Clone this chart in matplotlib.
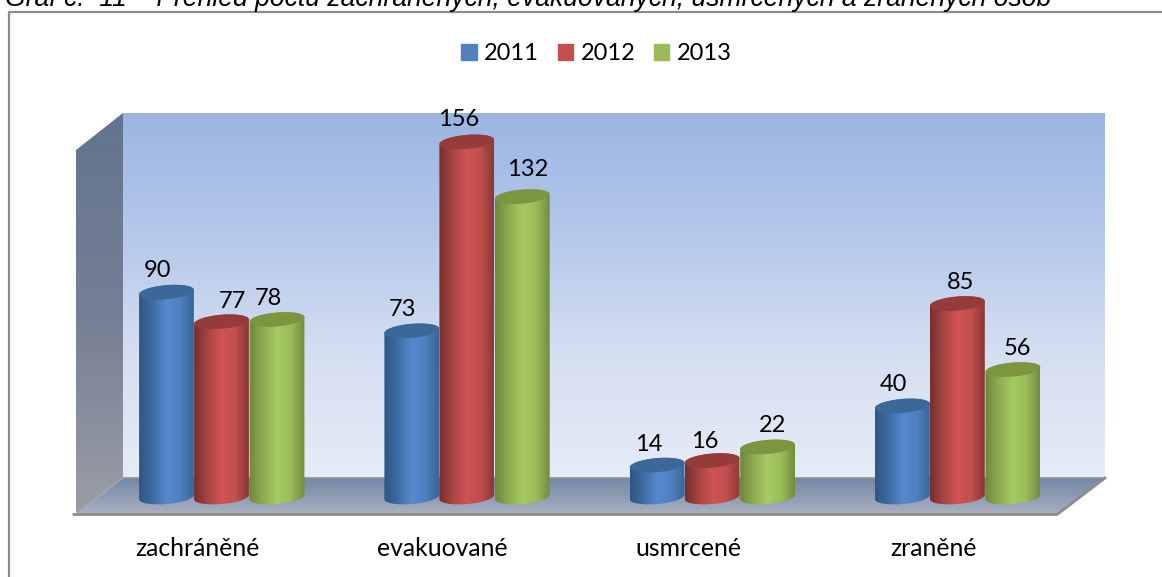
import numpy as np
import matplotlib
matplotlib.use('Agg')
from matplotlib import pyplot as plt
from matplotlib.colors import LinearSegmentedColormap
from matplotlib.patches import Patch, Polygon

categories = ['zachráněné', 'evakuované', 'usmrcené', 'zraněné']
years = ['2011', '2012', '2013']
values_2011 = [90, 73, 14, 40]
values_2012 = [77, 156, 16, 85]
values_2013 = [78, 132, 22, 56]

W, H = 1162, 577
PX_X = 245.3   # pixels per category
PX_Y = 2.276   # pixels per unit
X0, Y0 = 221.5, 497   # pixel position of first group, value 0

legend_colors = ['#4f81bd', '#c0504d', '#9bbb59']
body_colors = [['#2f5583', '#3f6ca3', '#5589cf', '#4f80c0', '#3a6495'],
               ['#752e2d', '#a84543', '#cf5553', '#c04f4d', '#8a3837'],
               ['#6d873c', '#8fab50', '#a6c961', '#9cbc5a', '#718c3e']]
top_colors = ['#3c6899', '#953c3a', '#7b9541']
offsets_px = [-55, 0, 55.5]
half_w_px = 27.5
half_h_px = 7
tilt = np.radians(5)

# label shift from the bar centre in pixels, one row per series
label_dx = [[-9, -9, -8, -9], [11, -8, -7, 3], [-9, 5, 5, 5]]
label_dy = [[-22, -21, -21, -21], [-20, -22, -19, -21], [-21, -27, -21, -21]]


def grad(ax, colors, extent, clip, horizontal=True, zorder=1):
    cmap = LinearSegmentedColormap.from_list('g', colors)
    t = np.linspace(0, 1, 256)
    img = t[None, :] if horizontal else t[:, None]
    im = ax.imshow(img, cmap=cmap, extent=extent, aspect='auto',
                   origin='upper', zorder=zorder, interpolation='bilinear')
    im.set_clip_path(clip)
    return im


def arc(cx, cy, t):
    # tilted ellipse in pixels, returned as offsets in data units
    ex = half_w_px * np.cos(t) * np.cos(tilt) - half_h_px * np.sin(t) * np.sin(tilt)
    ey = half_w_px * np.cos(t) * np.sin(tilt) + half_h_px * np.sin(t) * np.cos(tilt)
    return cx + ex / PX_X, cy + ey / PX_Y


def cylinder(ax, x, v, series, z):
    w = half_w_px / PX_X
    # outline: lower half of base ellipse, then upper half of top ellipse
    bx, by = arc(x, 0, np.linspace(np.pi, 2 * np.pi, 40))
    tx, ty = arc(x, v, np.linspace(0, np.pi, 40))
    body = Polygon(np.c_[np.r_[bx, tx], np.r_[by, ty]], closed=True, fc='none',
                   ec='none', transform=ax.transData)
    ax.add_patch(body)
    grad(ax, body_colors[series], (x - w, x + w, -5, v + 8), body, zorder=z)
    ex, ey = arc(x, v, np.linspace(0, 2 * np.pi, 80))
    ax.fill(ex, ey, color=top_colors[series], lw=0, zorder=z + 0.1)


fig = plt.figure(figsize=(W / 100, H / 100), dpi=100)

# backdrop in pixel coordinates
bg = fig.add_axes([0, 0, 1, 1])
bg.axis('off')

wall = Polygon([(123, 113), (1105, 113), (1105, 478), (123, 478)], fc='none', ec='none')
bg.add_patch(wall)
grad(bg, ['#9bb5e2', '#b5c8ea', '#d5dff2', '#e6ecf7'], (123, 1105, 478, 113), wall, False)

side = Polygon([(76, 150), (123, 113), (123, 478), (76, 514)], fc='none', ec='none')
bg.add_patch(side)
grad(bg, ['#63748f', '#757f94', '#9a9ea6'], (76, 123, 514, 113), side, False)

floor_pts = [(123, 478), (1105, 478), (1057, 514), (76, 514)]
floor = Polygon(floor_pts, fc='none', ec='none')
bg.add_patch(floor)
grad(bg, ['#7287a7', '#a9b0bf'], (76, 1105, 514, 478), floor, False)
bg.plot([123, 1105], [478, 478], color='#8e9298', lw=1.2, zorder=2)
bg.plot([74, 1057, 1105], [514.5, 514.5, 478], color='#8c8c8c', lw=2, zorder=2)
bg.plot([76, 123], [514, 478], color='#a8abb0', lw=0.8, zorder=2)

bg.plot([8.5, 8.5, W], [H, 11.5, 11.5], color='#8c8c8c', lw=1.6, zorder=2)

bg.text(5, 6, 'Graf č.  11 – Přehled počtu zachráněných, evakuovaných, usmrcených a zraněných osob',
        family='Liberation Sans', style='italic', fontsize=19.1, color='black', va='baseline')
bg.set_xlim(0, W)
bg.set_ylim(H, 0)

# chart axes: x in categories, y in values
ax = fig.add_axes([0, 0, 1, 1], facecolor='none')
ax.axis('off')

font = 'Lato'
size = 17
series = [values_2011, values_2012, values_2013]
for i in range(len(categories)):
    z = 3
    for s, vals in enumerate(series):
        x = i + offsets_px[s] / PX_X
        cylinder(ax, x, vals[i], s, z)
        z += 1
        ax.text(x + label_dx[s][i] / PX_X, vals[i] - label_dy[s][i] / PX_Y, str(vals[i]),
                family=font, fontsize=size, ha='center', va='center', color='black', zorder=9)
    ax.text(i - 24 / PX_X, -51 / PX_Y, categories[i], family=font, fontsize=17.8,
            ha='center', va='center', color='black', zorder=9)

ax.set_xlim(-X0 / PX_X, (W - X0) / PX_X)
ax.set_ylim((Y0 - H) / PX_Y, Y0 / PX_Y)

handles = [Patch(color=c, label=y) for c, y in zip(legend_colors, years)]
leg = ax.legend(handles=handles, ncol=3, frameon=False, loc='center',
                bbox_to_anchor=(596.5 / W, 1 - 53.5 / H), prop={'family': font, 'size': size},
                handlelength=0.65, handleheight=0.65, handletextpad=0.32, columnspacing=0.78)

fig.savefig('out.png', dpi=100)
